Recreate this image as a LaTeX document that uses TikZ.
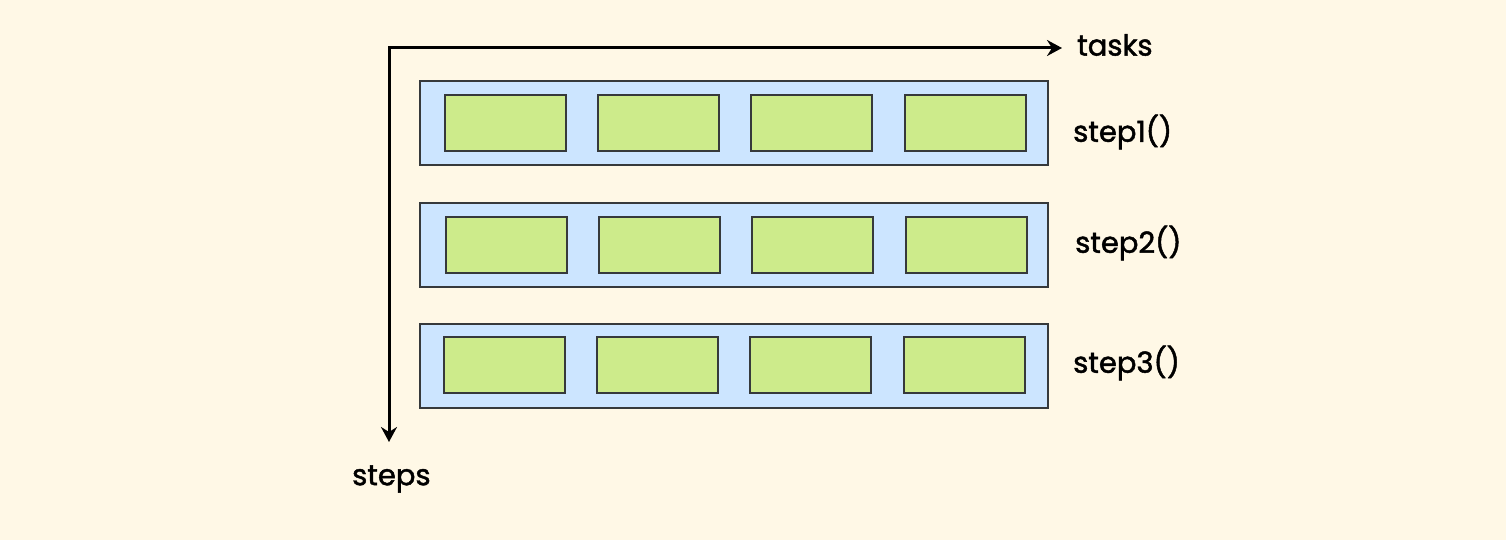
\documentclass[tikz,border=0pt]{standalone}
\usepackage{fontspec}
\setmainfont{Poppins}[FakeBold=1.6]
\usetikzlibrary{arrows.meta}
\definecolor{bg}{HTML}{FFF8E6}
\definecolor{rowfill}{HTML}{CCE5FF}
\definecolor{cellfill}{HTML}{CDEB8B}
\definecolor{edge}{HTML}{36393B}
\tikzset{
  x=1pt, y=-1pt,
  rowbox/.style={draw=edge, fill=rowfill, line width=1.6pt, rectangle, inner sep=0pt, minimum width=628pt, minimum height=84pt},
  cellbox/.style={draw=edge, fill=cellfill, line width=1.8pt, rectangle, inner sep=0pt, minimum width=121pt, minimum height=56pt},
  axis/.style={line width=3pt, -{Stealth[length=15pt,width=16pt,inset=5pt]}},
  lbl/.style={font=\fontsize{29}{33}\selectfont, inner sep=0pt, anchor=west}
}
\begin{document}
\begin{tikzpicture}
\fill[bg] (0,0) rectangle (1506,540);
\useasboundingbox (0,0) rectangle (1506,540);
\coordinate (origin) at (389,48);
\coordinate (xend) at (1062,48);
\coordinate (yend) at (389,442);
\draw[axis] (origin) -- (xend);
\draw[axis] (origin) -- (yend);
\fill (387.5,46.5) rectangle (390.5,49.5);
% rows
\node[rowbox] (r1) at (734,123) {};
\node[rowbox] (r2) at (734,245) {};
\node[rowbox] (r3) at (734,366) {};
% cells
\foreach \r/\y/\dx in {1/123/0, 2/245/1, 3/365/-1}{
  \foreach \c/\x in {1/505.5, 2/658.5, 3/811.5, 4/965.5}{
    \node[cellbox] (c\r\c) at (\x+\dx,\y) {};
  }
}
\node[lbl] (tasks) at (1077,45) {tasks};
\node[lbl] (s1) at (1073,132) {step1()};
\node[lbl] (s2) at (1075,243) {step2()};
\node[lbl] (s3) at (1073,363) {step3()};
\node[lbl] (steps) at (352,479) {steps};
\end{tikzpicture}
\end{document}
